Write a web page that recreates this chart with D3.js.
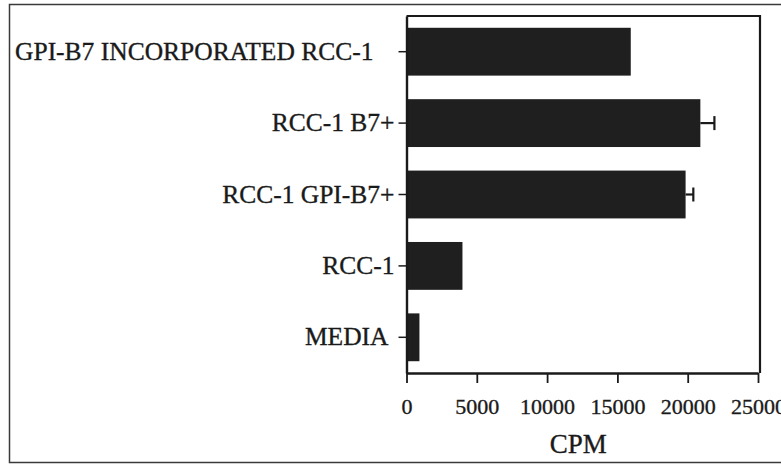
<!DOCTYPE html>
<html>
<head>
<meta charset="utf-8">
<script src="https://cdn.jsdelivr.net/npm/d3@7"></script>
<style>
  html, body { margin: 0; padding: 0; background: #fff; }
  svg { display: block; }
  svg text { font-family: "Liberation Serif", "Times New Roman", Tinos, "DejaVu Serif", serif !important; fill: #1a1a1a; stroke: #1a1a1a; stroke-width: 0.35px; }
</style>
</head>
<body>
<svg id="chart" width="781" height="464"></svg>
<script>
// ---- data ----
const categories = ["GPI-B7 INCORPORATED RCC-1", "RCC-1 B7+", "RCC-1 GPI-B7+", "RCC-1", "MEDIA"];
const cpmValues  = [15950, 20900, 19850, 3980, 920];
const cpmErrors  = [0, 1000, 550, 0, 0];
const xTicks     = [0, 5000, 10000, 15000, 20000, 25000];
const xTitle     = "CPM";

const svg = d3.select("#chart");

// outer frame
svg.append("path")
  .attr("d", "M 790 4.5 H 9.5 V 462.5 H 790")
  .attr("fill", "none").attr("stroke", "#3a3a3a").attr("stroke-width", 1.5);

const pLeft = 406.5, pRight = 758, pTop = 16, pBottom = 373;

const x = d3.scaleLinear().domain([0, 25000]).range([pLeft, pRight]);
const y = d3.scaleBand().domain(categories).range([pTop, pBottom])
  .paddingInner(0.33).paddingOuter(0.165);

// bars
svg.append("g").selectAll("rect").data(categories).join("rect")
  .attr("x", x(0))
  .attr("y", d => y(d))
  .attr("width", (d, i) => x(cpmValues[i]) - x(0))
  .attr("height", y.bandwidth())
  .attr("fill", "#1f1f1f");

// error bars
const eg = svg.append("g").attr("stroke", "#1a1a1a").attr("stroke-width", 2.2);
categories.forEach((c, i) => {
  if (!cpmErrors[i]) return;
  const cy = y(c) + y.bandwidth() / 2;
  const xe = x(cpmValues[i] + cpmErrors[i]);
  eg.append("line").attr("x1", x(cpmValues[i])).attr("x2", xe).attr("y1", cy).attr("y2", cy);
  eg.append("line").attr("x1", xe).attr("x2", xe).attr("y1", cy - 7).attr("y2", cy + 7);
});

// plot frame (top + right)
svg.append("path")
  .attr("d", `M ${pLeft} ${pTop} H ${x(25000) + 2} V ${pBottom}`)
  .attr("fill", "none").attr("stroke", "#1a1a1a").attr("stroke-width", 2.2);

// x axis
const xAxis = svg.append("g").attr("transform", `translate(0,${pBottom})`)
  .call(d3.axisBottom(x).tickValues(xTicks).tickFormat(d3.format("d")).tickSize(10).tickPadding(15).tickSizeOuter(0));
xAxis.attr("font-family", null);
xAxis.select(".domain").attr("stroke", "#1a1a1a").attr("stroke-width", 2.4);
xAxis.selectAll(".tick line").attr("stroke", "#1a1a1a").attr("stroke-width", 1.8);
xAxis.selectAll(".tick text").attr("font-size", 22).attr("fill", "#1a1a1a");

// y axis
const yAxis = svg.append("g").attr("transform", `translate(${pLeft},0)`)
  .call(d3.axisLeft(y).tickSize(8).tickPadding(4).tickSizeOuter(0));
yAxis.attr("font-family", null);
yAxis.select(".domain").attr("stroke", "#1a1a1a").attr("stroke-width", 2.4);
yAxis.selectAll(".tick line").attr("stroke", "#1a1a1a").attr("stroke-width", 1.5);
yAxis.selectAll(".tick text").attr("font-size", 25.5).attr("fill", "#1a1a1a");
yAxis.selectAll(".tick text").filter((d, i) => i === 0).attr("x", -33);
yAxis.selectAll(".tick text").filter((d, i) => i === 4).attr("x", -18);

// x title
svg.append("text")
  .attr("x", (x(0) + x(25000)) / 2 - 4)
  .attr("y", 453)
  .attr("text-anchor", "middle")
  .attr("font-size", 27)
  .text(xTitle);
</script>
</body>
</html>
